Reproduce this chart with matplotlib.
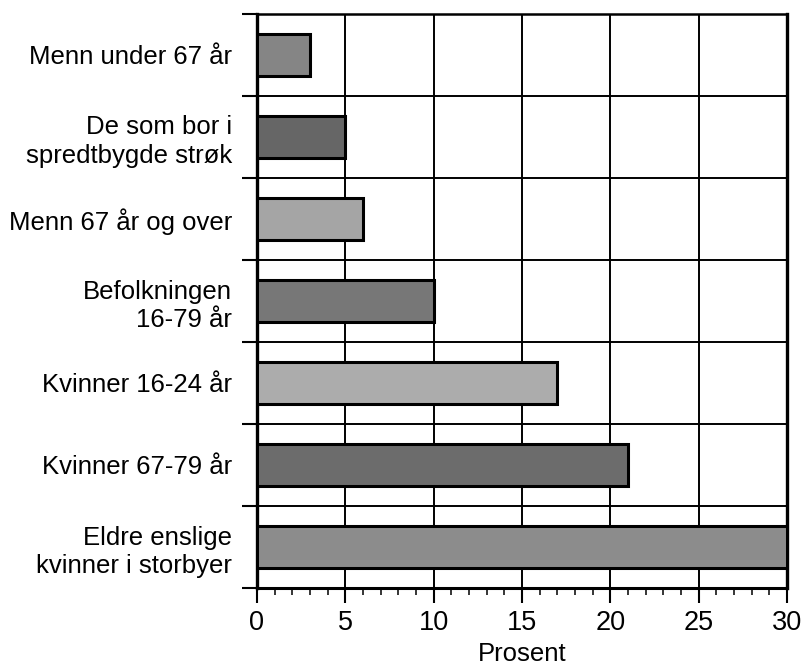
import matplotlib
matplotlib.use("Agg")
import matplotlib.pyplot as plt
from matplotlib.ticker import MultipleLocator, FixedLocator
import numpy as np

plt.rcParams['font.family'] = ['Liberation Sans', 'DejaVu Sans']

categories = [
    "Menn under 67 år",
    "De som bor i\nspredtbygde strøk",
    "Menn 67 år og over",
    "Befolkningen\n16-79 år",
    "Kvinner 16-24 år",
    "Kvinner 67-79 år",
    "Eldre enslige\nkvinner i storbyer",
]
values = [3, 5, 6, 10, 17, 21, 30]
x_ticks = [0, 5, 10, 15, 20, 25, 30]
x_label = "Prosent"

bar_colors = ["#858585", "#666666", "#a5a5a5", "#777777", "#acacac", "#6c6c6c", "#8c8c8c"]

fig = plt.figure(figsize=(8.07, 6.69), dpi=100)
ax = fig.add_axes([257/807, 1-588/669, (787-257)/807, (588-14)/669])

y = np.arange(len(categories))
ax.barh(y, values, height=0.51, color=bar_colors, edgecolor="black", linewidth=2.2, zorder=3)

ax.set_xlim(0, 30)
ax.set_ylim(len(categories)-0.5, -0.5)

ax.set_xticks(x_ticks)
ax.set_xticklabels([str(t) for t in x_ticks], fontsize=19.5)
ax.xaxis.set_minor_locator(MultipleLocator(1))
ax.tick_params(axis='x', which='major', direction='out', length=11, width=1.5, pad=5, colors='black')
ax.tick_params(axis='x', which='minor', direction='out', length=5, width=1.1)

ax.set_yticks(y)
ax.set_yticklabels(categories, fontsize=18.5, linespacing=1.22, ha='right', multialignment='right')
ax.yaxis.set_minor_locator(FixedLocator(np.arange(-0.5, len(categories)+0.5, 1)))
ax.tick_params(axis='y', which='major', length=0, pad=18)
ax.tick_params(axis='y', which='minor', direction='out', length=10.5, width=1.5)

ax.grid(True, axis='x', which='major', color='black', linewidth=1.4, zorder=1)
ax.grid(True, axis='y', which='minor', color='black', linewidth=1.4, zorder=1)
ax.set_axisbelow(True)

for side, lw in [('left', 2.4), ('bottom', 2.2), ('right', 2.4), ('top', 1.8)]:
    ax.spines[side].set_linewidth(lw)
    ax.spines[side].set_color('black')

ax.set_xlabel(x_label, fontsize=18.5, labelpad=4)

fig.savefig("out.png", dpi=100)
